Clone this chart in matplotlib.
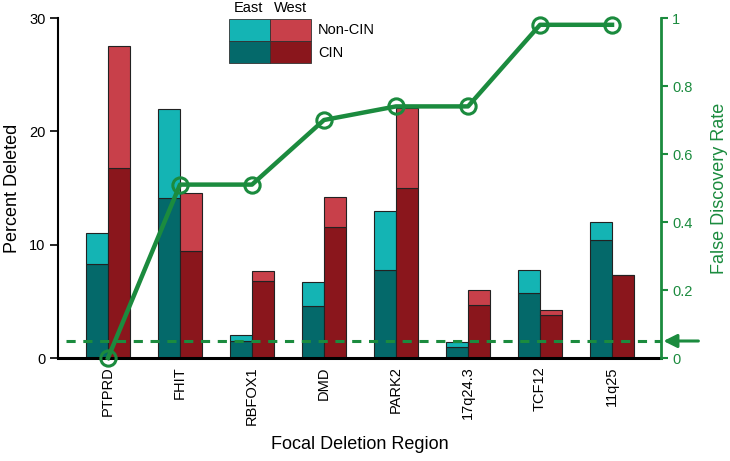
import matplotlib
matplotlib.use("Agg")
import matplotlib.pyplot as plt
from matplotlib.patches import Rectangle
import numpy as np

plt.rcParams['font.family'] = ['Liberation Sans', 'DejaVu Sans']

regions = ["PTPRD", "FHIT", "RBFOX1", "DMD", "PARK2", "17q24.3", "TCF12", "11q25"]
east_cin = [8.3, 14.1, 1.5, 4.6, 7.8, 0.95, 5.7, 10.4]
east_total = [11.0, 22.0, 2.0, 6.7, 13.0, 1.4, 7.8, 12.0]
west_cin = [16.8, 9.4, 6.8, 11.6, 15.0, 4.7, 3.8, 7.3]
west_total = [27.5, 14.6, 7.7, 14.2, 22.1, 6.0, 4.2, 7.3]
fdr = [0.0, 0.51, 0.51, 0.70, 0.74, 0.74, 0.98, 0.98]
fdr_threshold = 0.05
left_ticks = [0, 10, 20, 30]
right_ticks = [0, 0.2, 0.4, 0.6, 0.8, 1]
right_ticklabels = ["0", "0.2", "0.4", "0.6", "0.8", "1"]

C_E_NON = "#14b4b4"
C_E_CIN = "#04696a"
C_W_NON = "#c8404a"
C_W_CIN = "#8a161c"
GREEN = "#1b8b3e"

W, H = 730, 461
fig = plt.figure(figsize=(W / 100, H / 100), dpi=100)
ax = fig.add_axes([58 / W, 1 - 358 / H, (661 - 58) / W, (358 - 18) / H])

x = np.arange(len(regions))
bw = 0.30
e_non = np.array(east_total) - np.array(east_cin)
w_non = np.array(west_total) - np.array(west_cin)
ec = "#222222"
ax.bar(x - bw / 2, east_cin, bw, color=C_E_CIN, edgecolor=ec, linewidth=0.8)
ax.bar(x - bw / 2, e_non, bw, bottom=east_cin, color=C_E_NON, edgecolor=ec, linewidth=0.8)
ax.bar(x + bw / 2, west_cin, bw, color=C_W_CIN, edgecolor=ec, linewidth=0.8)
ax.bar(x + bw / 2, w_non, bw, bottom=west_cin, color=C_W_NON, edgecolor=ec, linewidth=0.8)

ax.set_xlim(-0.694, 7.68)
ax.set_ylim(0, 30)
ax.set_yticks(left_ticks)
ax.set_xticks(x)
ax.set_xticklabels(regions, rotation=90, fontsize=10.5)
ax.tick_params(axis='x', length=0, pad=6)
ax.tick_params(axis='y', length=6, width=1.2, labelsize=10.5, direction='out', pad=3)
ax.spines['top'].set_visible(False)
ax.spines['right'].set_visible(False)
ax.spines['left'].set_linewidth(1.5)
ax.spines['bottom'].set_linewidth(2.2)
ax.set_ylabel("Percent Deleted", fontsize=13, labelpad=6)
ax.set_xlabel("Focal Deletion Region", fontsize=13, labelpad=8)

ax2 = ax.twinx()
ax2.set_ylim(0, 1)
ax2.set_xlim(-0.694, 7.68)
for s in ['left', 'top', 'bottom']:
    ax2.spines[s].set_visible(False)
ax2.spines['right'].set_color(GREEN)
ax2.spines['right'].set_linewidth(2.0)
ax2.set_yticks(right_ticks)
ax2.set_yticklabels(right_ticklabels)
ax2.tick_params(axis='y', colors=GREEN, length=5, width=1.5, labelsize=10.5, pad=3)
ax2.set_ylabel("False Discovery Rate", color=GREEN, fontsize=13, labelpad=13)

ax2.plot([-0.58, 7.68], [fdr_threshold, fdr_threshold], color=GREEN,
         linestyle=(0, (3, 2.5)), linewidth=2.2, zorder=3)
ax2.plot(x, fdr, color=GREEN, linewidth=3.2, marker='o', markersize=11,
         markerfacecolor='none', markeredgewidth=2.2, clip_on=False, zorder=4)
ax2.annotate('', xy=(1.004, fdr_threshold), xytext=(1.062, fdr_threshold),
             xycoords=('axes fraction', 'data'), textcoords=('axes fraction', 'data'),
             arrowprops=dict(arrowstyle='-|>,head_length=0.8,head_width=0.4',
                             color=GREEN, lw=2.2, shrinkA=0, shrinkB=0),
             annotation_clip=False)

# legend grid
def fx(px):
    return px / W

def fy(py):
    return 1 - py / H

cells = [(229, 19, C_E_NON), (270, 19, C_W_NON), (229, 41, C_E_CIN), (270, 41, C_W_CIN)]
for (px, py, col) in cells:
    fig.patches.append(Rectangle((fx(px), fy(py + 22)), 41 / W, 22 / H, transform=fig.transFigure,
                                 facecolor=col, edgecolor="#333333", linewidth=0.6, figure=fig))
fig.text(fx(248), fy(8), "East", ha='center', va='center', fontsize=10.5)
fig.text(fx(291), fy(8), "West", ha='center', va='center', fontsize=10.5)
fig.text(fx(318), fy(30), "Non-CIN", ha='left', va='center', fontsize=10.5)
fig.text(fx(318), fy(53), "CIN", ha='left', va='center', fontsize=10.5)

fig.savefig("out.png", dpi=100)
